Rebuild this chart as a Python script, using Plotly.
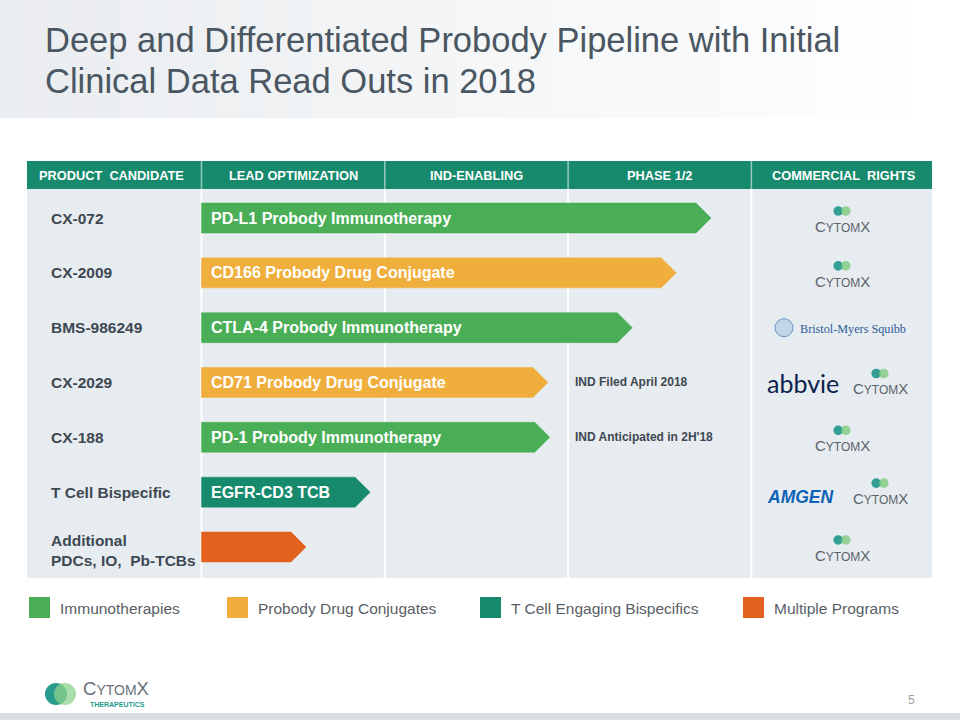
import plotly.graph_objects as go

# ---------------- data ----------------
candidates = ["CX-072", "CX-2009", "BMS-986249", "CX-2029", "CX-188",
              "T Cell Bispecific", "Additional<br>PDCs, IO,  Pb-TCBs"]
programs = ["PD-L1 Probody Immunotherapy", "CD166 Probody Drug Conjugate",
            "CTLA-4 Probody Immunotherapy", "CD71 Probody Drug Conjugate",
            "PD-1 Probody Immunotherapy", "EGFR-CD3 TCB", ""]
modality = ["Immunotherapies", "Probody Drug Conjugates", "Immunotherapies",
            "Probody Drug Conjugates", "Immunotherapies",
            "T Cell Engaging Bispecifics", "Multiple Programs"]
# progress measured in stages (0 = start of Lead Optimization, 1 = IND-enabling, 2 = Phase 1/2)
progress = [2.78, 2.59, 2.35, 1.89, 1.90, 0.92, 0.57]
notes = ["", "", "", "IND Filed April 2018", "IND Anticipated in 2H'18", "", ""]
rights = [["CytomX"], ["CytomX"], ["BMS"], ["AbbVie", "CytomX"], ["CytomX"],
          ["Amgen", "CytomX"], ["CytomX"]]
stages = ["LEAD OPTIMIZATION", "IND-ENABLING", "PHASE 1/2"]
legend_names = ["Immunotherapies", "Probody Drug Conjugates",
                "T Cell Engaging Bispecifics", "Multiple Programs"]
legend_colors = ["#4aae57", "#f0ae3c", "#178a6d", "#e3611f"]

# ---------------- geometry helpers ----------------
W, H = 960, 720
X0, XU = 201.5, 183.3      # px of stage 0, px per stage
Y0, YU = 218.0, 54.83      # px of row 0, px per row
HEAD = 15 / XU             # arrow head length (stage units)
HH = 15 / YU               # half bar height (row units)


def PX(x):
    return x / W


def PY(y):
    return 1 - y / H


def ux(px):
    return (px - X0) / XU


def ry(py):
    return (py - Y0) / YU


TEXT = "#3e4852"
SANS = "Liberation Sans, Arial, sans-serif"
color_of = dict(zip(legend_names, legend_colors))

fig = go.Figure()
shapes = []
ann = []


def note(text, x, y, font, xanchor="center", yanchor="middle", xref="paper",
         yref="paper", align="center"):
    ann.append(dict(text=text, x=x, y=y, xref=xref, yref=yref, xanchor=xanchor,
                    yanchor=yanchor, align=align, showarrow=False, font=font))


# ---------------- background ----------------
n = 40
c0 = (234, 237, 240)
for k in range(n):
    t = k / (n - 1)
    c = tuple(int(round(c0[j] + (255 - c0[j]) * t)) for j in range(3))
    shapes.append(dict(type="rect", xref="paper", yref="paper",
                       x0=PX(W * k / n), x1=PX(W * (k + 1) / n) + 0.001,
                       y0=PY(118), y1=PY(0), fillcolor="rgb(%d,%d,%d)" % c,
                       line=dict(width=0), layer="below"))
shapes.append(dict(type="rect", xref="paper", yref="paper", x0=0, x1=1,
                   y0=PY(720), y1=PY(713), fillcolor="#d8dde2",
                   line=dict(width=0), layer="below"))

# table
shapes.append(dict(type="rect", xref="paper", yref="paper", x0=PX(27), x1=PX(932),
                   y0=PY(189), y1=PY(161), fillcolor="#178a6d",
                   line=dict(width=0), layer="below"))
shapes.append(dict(type="rect", xref="paper", yref="paper", x0=PX(27), x1=PX(932),
                   y0=PY(578), y1=PY(189), fillcolor="#e7ecf0",
                   line=dict(width=0), layer="below"))
for s in range(4):
    shapes.append(dict(type="line", xref="x", yref="paper", x0=s, x1=s,
                       y0=PY(578), y1=PY(189), line=dict(color="white", width=2),
                       layer="below"))
    shapes.append(dict(type="line", xref="x", yref="paper", x0=s, x1=s,
                       y0=PY(189), y1=PY(161),
                       line=dict(color="rgba(255,255,255,0.55)", width=1.5),
                       layer="below"))

# header texts
hfont = dict(family=SANS, size=12.8, color="white", weight="bold")
note("PRODUCT  CANDIDATE", PX(111), PY(175), hfont)
for s, name in enumerate(stages):
    note(name, s + 0.5, PY(175), hfont, xref="x")
note("COMMERCIAL  RIGHTS", PX(844), PY(175), hfont)

# ---------------- bars (arrows) ----------------
for name in legend_names:
    xs, ys = [], []
    for i, (m, p) in enumerate(zip(modality, progress)):
        if m != name:
            continue
        xs += [0, p - HEAD, p, p - HEAD, 0, 0, None]
        ys += [i - HH, i - HH, i, i + HH, i + HH, i - HH, None]
    fig.add_trace(go.Scatter(x=xs, y=ys, mode="lines", fill="toself",
                             fillcolor=color_of[name],
                             line=dict(width=0.5, color=color_of[name]),
                             name=name, showlegend=False, hoverinfo="skip"))

# bar labels
for i, txt in enumerate(programs):
    if txt:
        note(txt, ux(209), i, dict(family=SANS, size=16, color="white", weight="bold"),
             xanchor="left", xref="x", yref="y")

# candidate labels
for i, txt in enumerate(candidates):
    note(txt, PX(49), i + (0.06 if "<br>" in txt else 0.0),
         dict(family=SANS, size=15.5, color=TEXT, weight="bold"),
         xanchor="left", yref="y", align="left")

# notes
for i, txt in enumerate(notes):
    if txt:
        note(txt, 2.025, i, dict(family=SANS, size=12, color=TEXT, weight="bold"),
             xanchor="left", xref="x", yref="y")


# ---------------- logos ----------------
def cytomx(cx, cy, scale=1.0):
    r = 4.8 * scale
    shapes.append(dict(type="circle", xref="paper", yref="paper",
                       x0=PX(cx - 3.8 * scale - r), x1=PX(cx - 3.8 * scale + r),
                       y0=PY(cy - 7 * scale + r), y1=PY(cy - 7 * scale - r),
                       fillcolor="rgba(31,150,140,0.9)", line=dict(width=0)))
    shapes.append(dict(type="circle", xref="paper", yref="paper",
                       x0=PX(cx + 3.8 * scale - r), x1=PX(cx + 3.8 * scale + r),
                       y0=PY(cy - 7 * scale + r), y1=PY(cy - 7 * scale - r),
                       fillcolor="rgba(120,200,120,0.75)", line=dict(width=0)))
    note("C<span style='font-size:%dpx'>YTOM</span>X" % round(11.5 * scale),
         PX(cx), PY(cy + 8.5 * scale),
         dict(family=SANS, size=15 * scale, color="#5b636b"))


for i, lst in enumerate(rights):
    cy = Y0 + YU * i
    if lst == ["CytomX"]:
        cytomx(842, cy)
    elif lst == ["BMS"]:
        shapes.append(dict(type="circle", xref="paper", yref="paper",
                           x0=PX(775), x1=PX(793), y0=PY(cy + 9), y1=PY(cy - 9),
                           fillcolor="rgba(170,200,225,0.6)",
                           line=dict(color="#6a94c0", width=1)))
        note("Bristol-Myers Squibb", PX(798), PY(cy + 1),
             dict(family="Liberation Serif, serif", size=12.2, color="#2d5b9a"),
             xanchor="left")
    else:
        other = lst[0]
        if other == "AbbVie":
            note("abbvie", PX(803), PY(cy + 1),
                 dict(family="Lato, Noto Sans, sans-serif", size=25, color="#0a1f4c"))
        else:
            note("<i>AMGEN</i>", PX(800), PY(cy + 5),
                 dict(family=SANS, size=17.5, color="#0d63b8", weight="bold"))
        cytomx(880, cy - 2)

# ---------------- legend ----------------
leg_x = [29, 227, 480, 743]
for lx, name, col in zip(leg_x, legend_names, legend_colors):
    shapes.append(dict(type="rect", xref="paper", yref="paper",
                       x0=PX(lx), x1=PX(lx + 21), y0=PY(618), y1=PY(597),
                       fillcolor=col, line=dict(width=0)))
    note(name, PX(lx + 29), PY(608),
         dict(family=SANS, size=15.5, color="#585e66"), xanchor="left")

# ---------------- title & footer ----------------
tfont = dict(family=SANS, size=34.5, color="#4a5661")
note("Deep and Differentiated Probody Pipeline with Initial", PX(43), PY(40),
     tfont, xanchor="left")
note("Clinical Data Read Outs in 2018", PX(43), PY(80.5), tfont, xanchor="left")
note("5", PX(911), PY(700), dict(family=SANS, size=12, color="#9a9fa5"))

# footer logo
shapes.append(dict(type="circle", xref="paper", yref="paper",
                   x0=PX(45), x1=PX(67), y0=PY(705), y1=PY(683),
                   fillcolor="rgba(30,150,135,0.95)", line=dict(width=0)))
shapes.append(dict(type="circle", xref="paper", yref="paper",
                   x0=PX(54), x1=PX(76), y0=PY(705), y1=PY(683),
                   fillcolor="rgba(140,210,140,0.75)", line=dict(width=0)))
note("C<span style='font-size:14px'>YTOM</span>X", PX(81), PY(688.5),
     dict(family=SANS, size=18.5, color="#6b7178"), xanchor="left")
note("THERAPEUTICS", PX(88), PY(704),
     dict(family=SANS, size=7, color="#1f9a8a", weight="bold"), xanchor="left")

fig.update_layout(
    width=W, height=H, margin=dict(l=0, r=0, t=0, b=0),
    paper_bgcolor="white", plot_bgcolor="rgba(0,0,0,0)",
    xaxis=dict(range=[ux(0), ux(W)], visible=False, fixedrange=True),
    yaxis=dict(range=[ry(H), ry(0)], visible=False, fixedrange=True),
    shapes=shapes, annotations=ann, showlegend=False,
)
fig.write_html("out.html", config={"displayModeBar": False},
               post_script="document.body.style.margin='0px';")
